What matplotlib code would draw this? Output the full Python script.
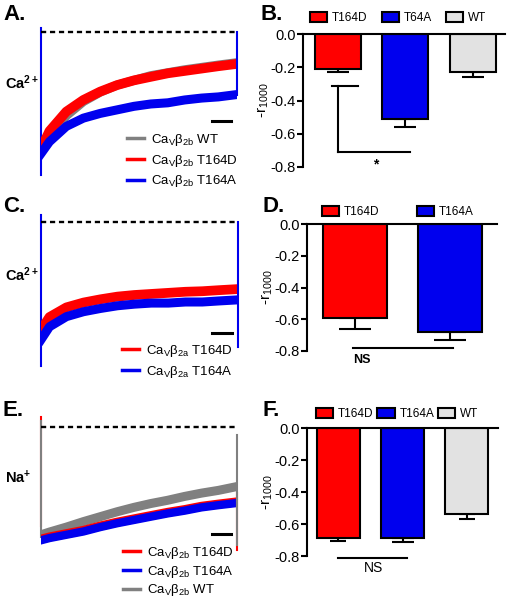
import matplotlib
matplotlib.use("Agg")
import matplotlib.pyplot as plt
from matplotlib.lines import Line2D
from matplotlib.patches import Patch

plt.rcParams["font.family"] = ["Liberation Sans", "DejaVu Sans"]
plt.rcParams["mathtext.fontset"] = "custom"
plt.rcParams["mathtext.rm"] = "Liberation Sans"
plt.rcParams["mathtext.it"] = "Liberation Sans:italic"
plt.rcParams["mathtext.bf"] = "Liberation Sans:bold"

RED = "#ff0000"
BLUE = "#0000ee"
GRAY = "#808080"
LIGHT = "#e2e2e2"

# ---- trace data (time in ms, current normalised to peak) ----
t_ms = [0, 43, 129, 216, 302, 388, 474, 560, 647, 733, 819, 905, 1000]

a_wt = [-0.99, -0.88, -0.71, -0.59, -0.51, -0.45, -0.41, -0.37, -0.345, -0.32, -0.30, -0.28, -0.26]
a_t164d = [-0.99, -0.84, -0.675, -0.576, -0.505, -0.45, -0.41, -0.38, -0.35, -0.33, -0.31, -0.29, -0.27]
a_t164a = [-1.03, -0.93, -0.80, -0.73, -0.69, -0.66, -0.63, -0.61, -0.60, -0.576, -0.56, -0.55, -0.53]

c_t164d = [-1.0, -0.88, -0.79, -0.745, -0.715, -0.69, -0.675, -0.665, -0.655, -0.645, -0.64, -0.63, -0.62]
c_t164a = [-1.09, -0.97, -0.876, -0.83, -0.80, -0.775, -0.76, -0.75, -0.75, -0.74, -0.74, -0.73, -0.72]

e_wt = [-0.98, -0.955, -0.91, -0.86, -0.815, -0.77, -0.73, -0.695, -0.665, -0.63, -0.60, -0.575, -0.54]
e_t164d = [-1.02, -1.0, -0.97, -0.94, -0.90, -0.865, -0.835, -0.805, -0.775, -0.75, -0.72, -0.70, -0.68]
e_t164a = [-1.03, -1.01, -0.98, -0.95, -0.91, -0.875, -0.845, -0.815, -0.785, -0.76, -0.73, -0.71, -0.69]

# capacitive transients (top, bottom) at start / end of the pulse
a_spike_start = [0.03, -1.21]
a_spike_end = [0.0, -0.53]
c_spike_start = [0.07, -1.33]
c_spike_end = [0.0, -1.16]
e_spike_start = [0.06, -1.0]
e_spike_end = [-0.07, -1.07]

scale_bar_ms = [870, 970]

# ---- bar data ----
b_labels = ["T164D", "T64A", "WT"]
b_vals = [-0.21, -0.51, -0.23]
b_err = [0.02, 0.05, 0.03]

d_labels = ["T164D", "T164A"]
d_vals = [-0.59, -0.68]
d_err = [0.07, 0.05]

f_labels = ["T164D", "T164A", "WT"]
f_vals = [-0.69, -0.69, -0.54]
f_err = [0.015, 0.025, 0.03]

W, H = 508, 600
fig = plt.figure(figsize=(W / 100, H / 100), dpi=100)


def trace_axes(x0, x1, y_zero, y_one, ylo=-1.4, yhi=0.15):
    s = y_one - y_zero
    top = y_zero - yhi * s
    bot = y_zero - ylo * s
    ax = fig.add_axes([x0 / W, 1 - bot / H, (x1 - x0) / W, (bot - top) / H])
    ax.set_xlim(0, 1000)
    ax.set_ylim(ylo, yhi)
    ax.axis("off")
    ax.plot([0, 1000], [0, 0], color="black", lw=1.7, ls=(0, (2.2, 1.6)), zorder=5, clip_on=False)
    return ax


def bar_axes(x0, x1, y0, y8, xlim):
    ax = fig.add_axes([x0 / W, 1 - y8 / H, (x1 - x0) / W, (y8 - y0) / H])
    ax.set_ylim(-0.8, 0)
    ax.set_xlim(*xlim)
    for s in ["right", "bottom"]:
        ax.spines[s].set_visible(False)
    ax.spines["left"].set_linewidth(1.5)
    ax.spines["top"].set_linewidth(1.5)
    ax.set_xticks([])
    ax.set_yticks([0, -0.2, -0.4, -0.6, -0.8])
    ax.set_yticklabels(["0.0", "-0.2", "-0.4", "-0.6", "-0.8"])
    ax.tick_params(axis="y", labelsize=10.5, width=1.5, length=4, pad=1)
    ax.set_ylabel(r"-r$_{1000}$", fontsize=11, labelpad=0)
    return ax


def draw_bars(ax, vals, errs, colors, width, caps):
    x = list(range(len(vals)))
    ax.bar(x, vals, width=width, color=colors, edgecolor="black", linewidth=1.5, zorder=2)
    for xi, v, e, c in zip(x, vals, errs, caps):
        ax.errorbar(xi, v, yerr=[[e], [0]], color="black", elinewidth=1.5,
                    capsize=c, capthick=1.5, zorder=1, clip_on=False)


def bar_legend(ax, labels, colors, xy, colsp):
    handles = [Patch(facecolor=c, edgecolor="black", linewidth=1.5) for c in colors]
    ax.legend(handles, labels, ncol=len(labels), loc="center left", bbox_to_anchor=(xy[0] / W, 1 - xy[1] / H),
              bbox_transform=fig.transFigure, frameon=False, fontsize=8.5, handlelength=1.45,
              handleheight=0.85, handletextpad=0.4, columnspacing=colsp, borderpad=0, borderaxespad=0)


def trace_legend(ax, labels, colors, xy, sp):
    handles = [Line2D([], [], color=c, lw=2.5) for c in colors]
    ax.legend(handles, labels, loc="upper left", bbox_to_anchor=(xy[0] / W, 1 - xy[1] / H),
              bbox_transform=fig.transFigure, frameon=False, fontsize=9.5, handlelength=1.3,
              handletextpad=0.5, labelspacing=sp, borderpad=0, borderaxespad=0)


lab2b = r"Ca$_\mathrm{V}$β$_\mathrm{2b}$ "
lab2a = r"Ca$_\mathrm{V}$β$_\mathrm{2a}$ "

# ---- A ----
axA = trace_axes(41, 237, 32, 150)
axA.plot([0, 0], a_spike_start, color=BLUE, lw=1.5, clip_on=False)
axA.plot(t_ms, a_wt, color=GRAY, lw=6.5, solid_joinstyle="round")
axA.plot(t_ms, a_t164d, color=RED, lw=7, solid_joinstyle="round")
axA.plot(t_ms, a_t164a, color=BLUE, lw=6.5, solid_joinstyle="round")
axA.plot([1000, 1000], a_spike_end, color=BLUE, lw=1.5, clip_on=False)
axA.plot(scale_bar_ms, [-0.754, -0.754], color="black", lw=2.2)
trace_legend(axA, [lab2b + "WT", lab2b + "T164D", lab2b + "T164A"], [GRAY, RED, BLUE], (127, 132), 0.35)

# ---- C ----
axC = trace_axes(41, 238, 222.3, 330)
axC.plot([0, 0], c_spike_start, color=BLUE, lw=1.5, clip_on=False)
axC.plot(t_ms, c_t164d, color=RED, lw=7, solid_joinstyle="round")
axC.plot(t_ms, c_t164a, color=BLUE, lw=6.5, solid_joinstyle="round")
axC.plot([1000, 1000], c_spike_end, color=BLUE, lw=1.5, clip_on=False)
axC.plot(scale_bar_ms, [-1.03, -1.03], color="black", lw=2.2)
trace_legend(axC, [lab2a + "T164D", lab2a + "T164A"], [RED, BLUE], (122, 343), 0.35)

# ---- E ----
axE = trace_axes(41, 237, 427.3, 537)
axE.plot([0, 0], [0.09, -0.9], color=RED, lw=1.5, clip_on=False)
axE.plot([0, 0], e_spike_start, color=GRAY, lw=1.5, clip_on=False)
axE.plot(t_ms, e_wt, color=GRAY, lw=6.5, solid_joinstyle="round")
axE.plot(t_ms, e_t164d, color=RED, lw=6.5, solid_joinstyle="round")
axE.plot(t_ms, e_t164a, color=BLUE, lw=6, solid_joinstyle="round")
axE.plot([1000, 1000], [-0.6, -1.12], color=RED, lw=1.5, clip_on=False)
axE.plot([1000, 1000], e_spike_end, color=GRAY, lw=1.5, clip_on=False)
axE.plot(scale_bar_ms, [-0.97, -0.97], color="black", lw=2.2)
trace_legend(axE, [lab2b + "T164D", lab2b + "T164A", lab2b + "WT"], [RED, BLUE, GRAY], (123, 545), 0.2)

# ---- B ----
axB = bar_axes(303, 505, 34, 167, (-0.52, 2.48))
draw_bars(axB, b_vals, b_err, [RED, BLUE, LIGHT], 0.68, [8, 8, 8])
axB.plot([-0.09, 0.30], [-0.31, -0.31], color="black", lw=1.5)
axB.plot([0, 0], [-0.31, -0.71], color="black", lw=1.5)
axB.plot([0, 1.07], [-0.71, -0.71], color="black", lw=1.5)
axB.text(0.56, -0.785, "*", ha="center", va="center", fontsize=10, fontweight="bold")
bar_legend(axB, b_labels, [RED, BLUE, LIGHT], (310, 18), 1.2)

# ---- D ----
axD = bar_axes(307, 497, 224, 351, (-0.508, 1.5))
draw_bars(axD, d_vals, d_err, [RED, BLUE], 0.68, [11.5, 11.5])
axD.plot([-0.02, 1.03], [-0.78, -0.78], color="black", lw=1.5, clip_on=False)
axD.text(0.07, -0.855, "NS", ha="center", va="center", fontsize=9, fontweight="bold")
bar_legend(axD, d_labels, [RED, BLUE], (322, 212), 3.2)

# ---- F ----
axF = bar_axes(307, 498, 428, 556, (-0.49, 2.49))
draw_bars(axF, f_vals, f_err, [RED, BLUE, LIGHT], 0.67, [6, 8, 6])
axF.plot([0.0, 1.07], [-0.81, -0.81], color="black", lw=1.5, clip_on=False)
axF.text(0.54, -0.875, "NS", ha="center", va="center", fontsize=10)
bar_legend(axF, f_labels, [RED, BLUE, LIGHT], (316, 414), 0.35)

# ---- panel letters and ion labels ----
for lbl, x, y in [("A.", 3, 15), ("B.", 260, 15), ("C.", 3, 207), ("D.", 262, 207),
                  ("E.", 3, 410), ("F.", 262, 410)]:
    fig.text(x / W, 1 - y / H, lbl, fontsize=16, fontweight="bold", va="center", ha="left")

for lbl, y in [(r"Ca$^{\mathbf{2+}}$", 83), (r"Ca$^{\mathbf{2+}}$", 275), (r"Na$^{\mathbf{+}}$", 478)]:
    fig.text(5 / W, 1 - y / H, lbl, fontsize=10.5, fontweight="bold", va="center", ha="left")

fig.savefig("out.png", dpi=100, facecolor="white")
